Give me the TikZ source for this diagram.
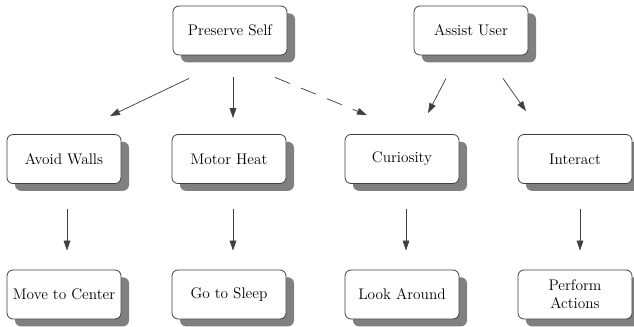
\documentclass[tikz,border=0pt]{standalone}
\usetikzlibrary{arrows.meta, shadows, calc}

\tikzset{
    goal/.style={draw=black!75, line width=0.6pt, fill=white, rounded corners=4.5pt,
        minimum width=85.5pt, minimum height=36.75pt, inner sep=2pt, align=center,
        font=\fontsize{11.5}{13.5}\selectfont,
        drop shadow={shadow xshift=6pt, shadow yshift=-5.5pt, fill=black!50, opacity=1}},
    link/.style={draw=black!75, line width=0.55pt, -{Triangle[length=7.5pt, width=5pt]}}
}

\begin{document}
\begin{tikzpicture}[x=0.75pt, y=-0.75pt]
    \useasboundingbox (0, 0) rectangle (634, 327);

    % Hàng trên: hai mục tiêu chính
    \node[goal] (ps) at (230, 30.5) {Preserve Self};
    \node[goal] (au) at (471, 30.5) {Assist User};

    % Hàng giữa: các hành vi
    \node[goal] (aw) at (64, 159) {Avoid Walls};
    \node[goal] (mh) at (229, 159) {Motor Heat};
    \node[goal] (cu) at (402, 159) {Curiosity};
    \node[goal] (ia) at (575, 159) {Interact};

    % Hàng dưới: các hành động
    \node[goal] (mc) at (64, 294.5) {Move to Center};
    \node[goal] (gs) at (229, 294.5) {Go to Sleep};
    \node[goal] (la) at (402, 294.5) {Look Around};
    \node[goal] (pa) at (575, 294.5) {Perform\\Actions};

    % Mũi tên từ hàng trên xuống
    \draw[link] ($(ps.south)+(-41, 23)$) -- ($(aw.north)+(46, -18)$);
    \draw[link] ($(ps.south)+(3, 22)$) -- ($(mh.north)+(4, -16)$);
    \draw[link, dash pattern=on 12pt off 9pt] ($(ps.south)+(45, 22)$) -- ($(cu.north)+(-35, -19)$);
    \draw[link] ($(au.south)+(-25, 23)$) -- ($(cu.north)+(26, -21)$);
    \draw[link] ($(au.south)+(32, 23)$) -- ($(ia.north)+(-49, -23)$);

    % Mũi tên thẳng đứng xuống hàng dưới
    \draw[link] ($(aw.south)+(3, 25)$) -- ($(mc.north)+(3, -19)$);
    \draw[link] ($(mh.south)+(4, 25)$) -- ($(gs.north)+(4, -19)$);
    \draw[link] ($(cu.south)+(4, 25)$) -- ($(la.north)+(4, -19)$);
    \draw[link] ($(ia.south)+(5, 25)$) -- ($(pa.north)+(5, -19)$);
\end{tikzpicture}
\end{document}
